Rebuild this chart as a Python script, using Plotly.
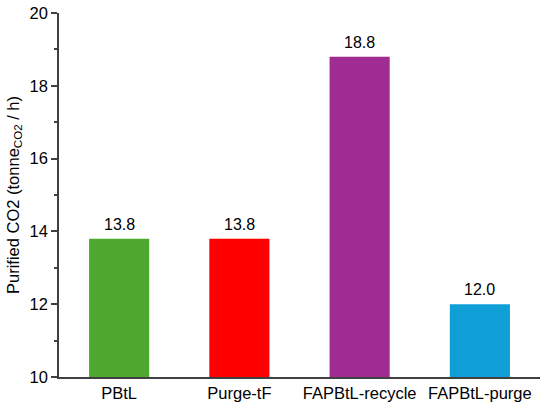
import plotly.graph_objects as go

categories = ["PBtL", "Purge-tF", "FAPBtL-recycle", "FAPBtL-purge"]
values = [13.8, 13.8, 18.8, 12.0]
colors = ["#4EA72E", "#FF0000", "#A02B93", "#0F9ED5"]

FONT = "Liberation Sans, Arial"

fig = go.Figure(go.Bar(
    x=categories, y=values, marker=dict(color=colors, line=dict(width=0)),
    width=0.5, hoverinfo="x+y",
))
for c, v in zip(categories, values):
    fig.add_annotation(x=c, y=v, text=f"{v:.1f}", showarrow=False, yanchor="bottom",
                       yshift=4, font=dict(size=16, color="black", family=FONT))
fig.update_layout(
    width=550, height=415, margin=dict(l=59, r=10, t=13, b=38, autoexpand=False),
    plot_bgcolor="white", paper_bgcolor="white", showlegend=False,
    font=dict(family=FONT, size=16, color="black"),
)
fig.update_yaxes(
    range=[10, 20], dtick=2, tick0=10, showline=True, linecolor="#404040", linewidth=1.5,
    ticks="outside", ticklen=6, tickwidth=1.5, tickcolor="#404040", showgrid=False, zeroline=False,
    minor=dict(dtick=1, ticks="outside", ticklen=3, tickwidth=1.5, tickcolor="#404040", showgrid=False),
    title=dict(text="Purified CO2 (tonne<sub>CO2</sub> / h)", font=dict(size=16.5), standoff=6),
    tickfont=dict(size=16.5), automargin=False,
)
fig.update_xaxes(showline=True, linecolor="#404040", linewidth=1.5, ticks="", showgrid=False,
                 tickfont=dict(size=16.5), automargin=False)
fig.write_html("out.html", full_html=True, config={"displayModeBar": False},
               post_script="document.body.style.margin='0';window.dispatchEvent(new Event('resize'));")
